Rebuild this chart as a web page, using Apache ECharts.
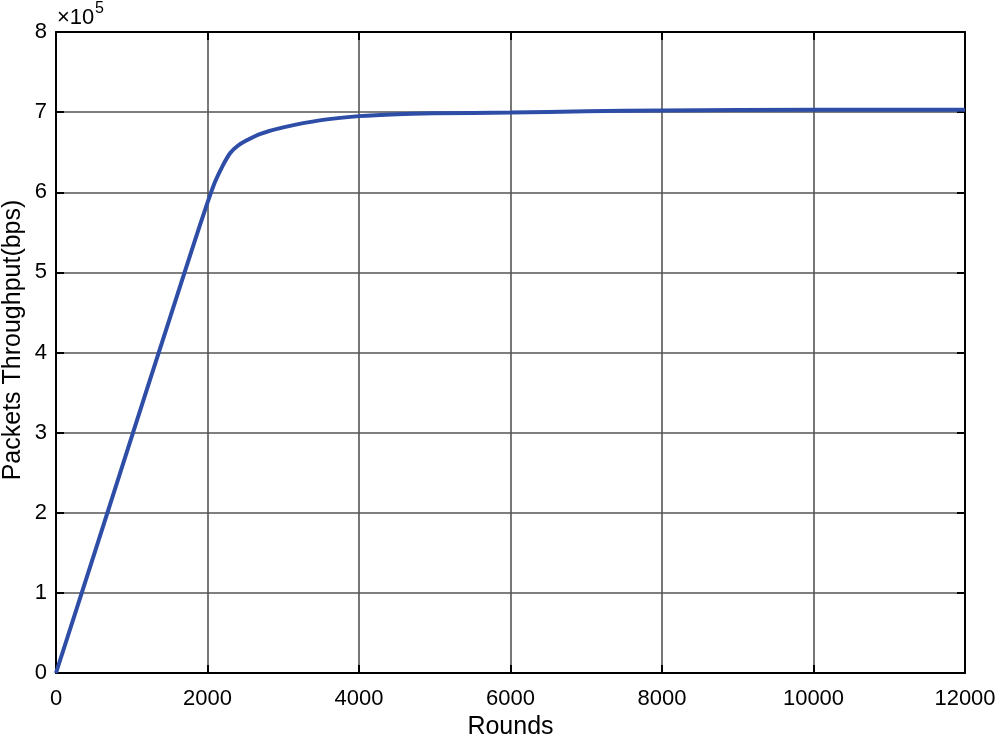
<!DOCTYPE html>
<html>
<head>
<meta charset="utf-8">
<script src="https://cdn.jsdelivr.net/npm/echarts@6/dist/echarts.min.js"></script>
<style>html,body{margin:0;padding:0;background:#fff}#c{width:1000px;height:743px}</style>
</head>
<body>
<div id="c"></div>
<script>
const rounds = [0, 500, 1000, 1500, 1800, 2000, 2100, 2200, 2300, 2400, 2500, 2700, 3000, 3500, 4000, 4500, 5000, 6000, 7000, 8000, 10000, 12000];
const throughput = [0, 147000, 295000, 442000, 530000, 587000, 613000, 633000, 649000, 658000, 664000, 673000, 681000, 690000, 695000, 697500, 698500, 699500, 701000, 702000, 703000, 703000];
const xTicks = [0, 2000, 4000, 6000, 8000, 10000, 12000];
const yTicks = [0, 1, 2, 3, 4, 5, 6, 7, 8];

const font = 'Liberation Sans, Arial, sans-serif';
const chart = echarts.init(document.getElementById('c'), null, {renderer: 'canvas'});
const data = rounds.map((r, i) => [r, throughput[i]]);
const tickStyle = {show: true, inside: true, length: 8, lineStyle: {color: '#000', width: 2}};
chart.setOption({
  animation: false,
  backgroundColor: '#fff',
  grid: {left: 56, right: 35, top: 32, bottom: 70, containLabel: false, outerBoundsMode: 'none'},
  xAxis: [{
    type: 'value', min: 0, max: 12000, interval: 2000,
    name: 'Rounds', nameLocation: 'middle', nameGap: 42,
    nameTextStyle: {fontFamily: font, fontSize: 25, color: '#000'},
    axisLine: {show: true, onZero: false, lineStyle: {color: '#000', width: 2}},
    axisTick: tickStyle,
    axisLabel: {fontFamily: font, fontSize: 22, color: '#000', margin: 15,
      formatter: v => String(xTicks[Math.round(v / 2000)])},
    splitLine: {show: true, lineStyle: {color: '#555', width: 1.6}}
  }, {
    type: 'value', position: 'top', min: 0, max: 12000, interval: 2000,
    axisLine: {show: true, onZero: false, lineStyle: {color: '#000', width: 2}},
    axisTick: tickStyle, axisLabel: {show: false}, splitLine: {show: false}
  }],
  yAxis: [{
    type: 'value', min: 0, max: 800000, interval: 100000,
    axisLine: {show: true, onZero: false, lineStyle: {color: '#000', width: 2}},
    axisTick: tickStyle,
    axisLabel: {fontFamily: font, fontSize: 22, color: '#000', margin: 9,
      formatter: v => String(yTicks[Math.round(v / 100000)])},
    splitLine: {show: true, lineStyle: {color: '#555', width: 1.6}}
  }, {
    type: 'value', position: 'right', min: 0, max: 800000, interval: 100000,
    axisLine: {show: true, onZero: false, lineStyle: {color: '#000', width: 2}},
    axisTick: tickStyle, axisLabel: {show: false}, splitLine: {show: false}
  }],
  graphic: [{
    type: 'text', x: 13, y: 340, rotation: Math.PI / 2,
    style: {text: 'Packets Throughput(bps)', fontFamily: font, fontSize: 25, fill: '#000',
      align: 'center', verticalAlign: 'middle'}
  }, {
    type: 'text', left: 57, top: 7,
    style: {text: '×10', fontFamily: font, fontSize: 22, fill: '#000'}
  }, {
    type: 'text', left: 95, top: 1,
    style: {text: '5', fontFamily: font, fontSize: 16, fill: '#000'}
  }],
  series: [{
    type: 'line', data: data, showSymbol: false, smooth: 0.3,
    lineStyle: {color: '#2E4DA7', width: 4}, z: 5, clip: true
  }]
});
</script>
</body>
</html>
